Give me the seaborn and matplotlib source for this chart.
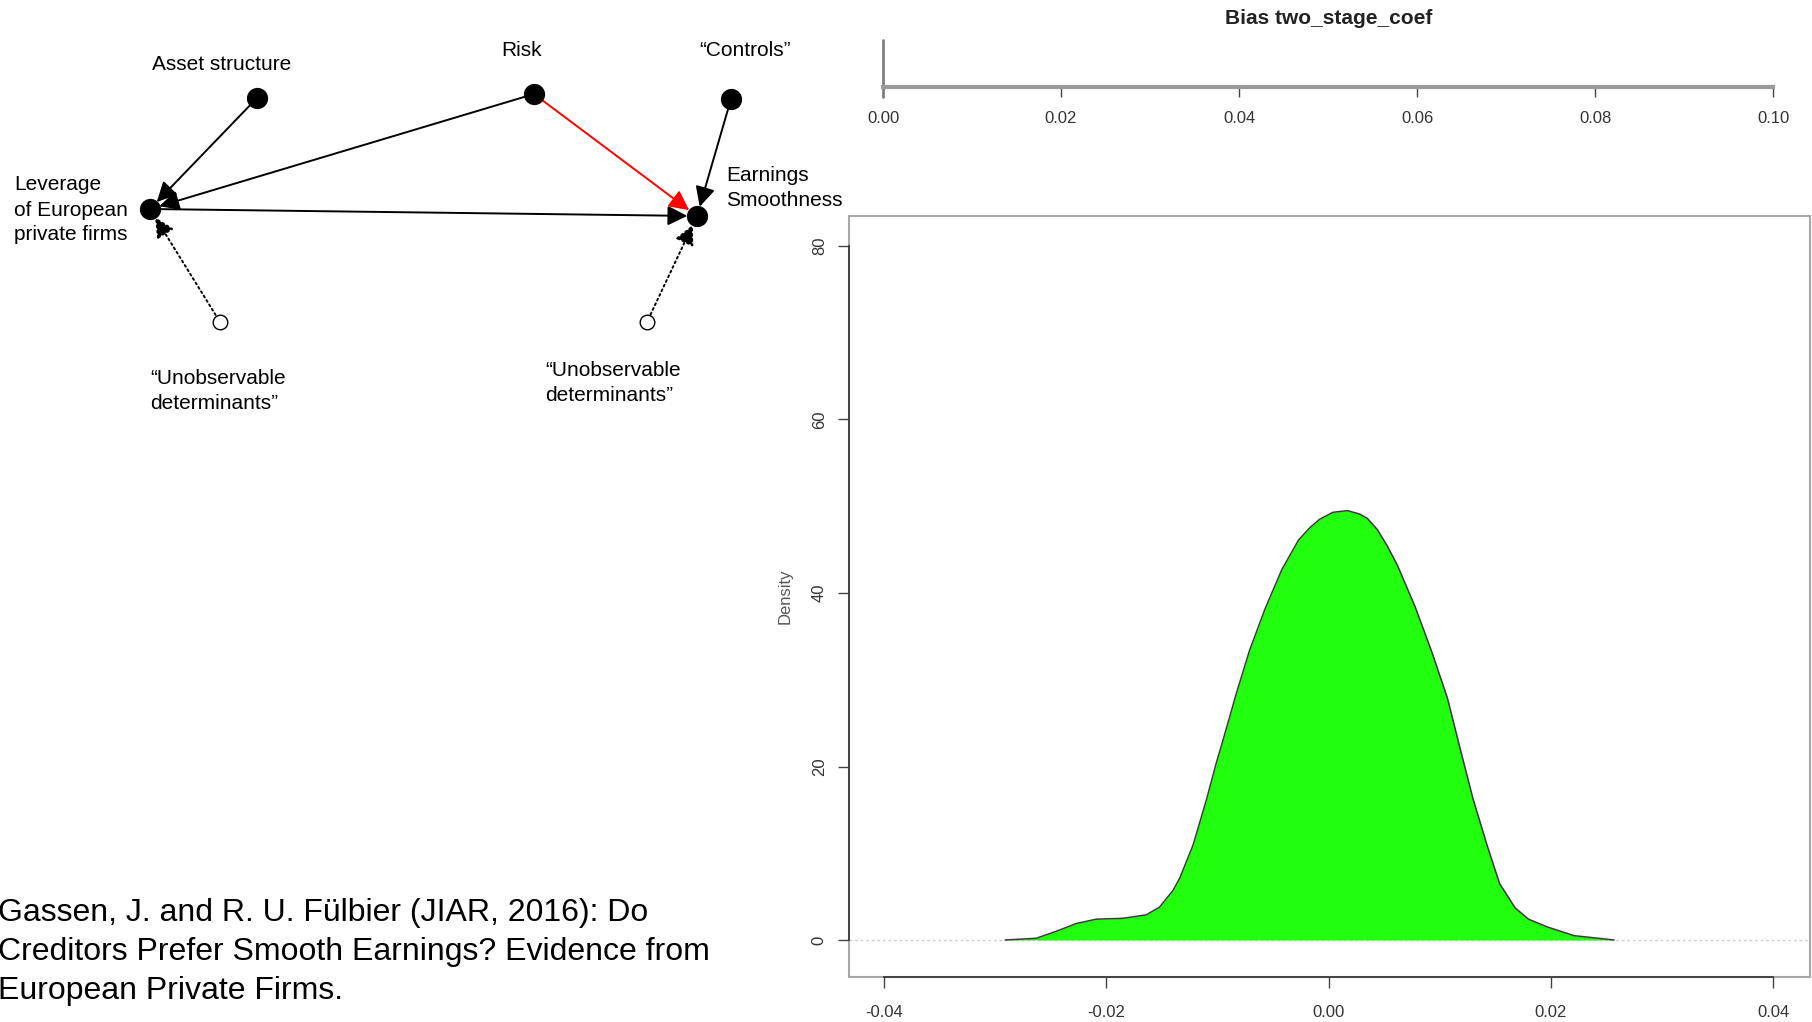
import matplotlib
matplotlib.use('Agg')

import pandas as pd
import matplotlib.pyplot as plt
import matplotlib.patches as mpatches
import seaborn as sns

sns.set_style('white')
plt.rcParams['font.family'] = ['Liberation Sans', 'DejaVu Sans']

# ---- data -------------------------------------------------------------
# density of the two-stage bias
bias = [-0.0291, -0.0263, -0.0245, -0.0227, -0.0209, -0.0185, -0.0164,
        -0.0152, -0.0140, -0.0134, -0.0122, -0.0110, -0.0101, -0.0095,
        -0.0083, -0.0071, -0.0057, -0.0042, -0.0027, -0.0017, -0.0008,
        0.0004, 0.0017, 0.0028, 0.0035, 0.0044, 0.0053, 0.0062, 0.0078,
        0.0093, 0.0107, 0.0118, 0.0130, 0.0143, 0.0154, 0.0168, 0.0180,
        0.0197, 0.0221, 0.0257]
density = [0.0, 0.2, 1.0, 1.9, 2.4, 2.5, 2.9,
           3.8, 5.7, 7.1, 10.9, 16.1, 20.4, 23.0,
           28.4, 33.4, 38.2, 42.7, 46.1, 47.5, 48.5,
           49.3, 49.5, 49.1, 48.6, 47.3, 45.4, 43.2, 38.4,
           33.2, 27.9, 22.3, 16.3, 10.8, 6.5, 3.7, 2.4,
           1.5, 0.5, 0.0]

x_ticks = [-0.04, -0.02, 0.00, 0.02, 0.04]
y_ticks = [0, 20, 40, 60, 80]
slider_ticks = [0.00, 0.02, 0.04, 0.06, 0.08, 0.10]
slider_value = 0.00
plot_title = 'Bias two_stage_coef'

# causal diagram (positions in picture pixels)
node_names = ['asset', 'risk', 'controls', 'leverage', 'earnings', 'unobs_lev', 'unobs_earn']
node_x = [257, 534, 731, 150, 697, 220, 647]
node_y = [98, 94, 99, 209, 216, 322, 322]
node_observed = [True, True, True, True, True, False, False]

edges = [
    ('asset', 'leverage', 'black', '-'),
    ('risk', 'leverage', 'black', '-'),
    ('risk', 'earnings', 'red', '-'),
    ('controls', 'earnings', 'black', '-'),
    ('leverage', 'earnings', 'black', '-'),
    ('unobs_lev', 'leverage', 'black', ':'),
    ('unobs_earn', 'earnings', 'black', ':'),
]

label_text = ['Asset structure', 'Risk', '\u201cControls\u201d',
              'Leverage\nof European\nprivate firms', 'Earnings\nSmoothness',
              '\u201cUnobservable\ndeterminants\u201d', '\u201cUnobservable\ndeterminants\u201d']
label_x = [222, 522, 745, 14, 726, 150, 545]
label_y = [64, 50, 50, 210, 188, 391, 383]
label_ha = ['center', 'center', 'center', 'left', 'left', 'left', 'left']

citation = ('Gassen, J. and R. U. F\u00fclbier (JIAR, 2016): Do\n'
            'Creditors Prefer Smooth Earnings? Evidence from\n'
            'European Private Firms.')

# ---- figure -----------------------------------------------------------
W, H = 1812, 1022
fig = plt.figure(figsize=(W / 100, H / 100), dpi=100)

# left: diagram in pixel coordinates
ax0 = fig.add_axes([0, 0, 1, 1])

nodes = pd.DataFrame({'name': node_names, 'x': node_x, 'y': node_y, 'observed': node_observed})
pos = {r.name: (r.x, r.y) for r in nodes.itertuples()}
observed = dict(zip(node_names, node_observed))

for src, dst, col, ls in edges:
    ax0.annotate('', xy=pos[dst], xytext=pos[src],
                 arrowprops=dict(arrowstyle='-|>,head_length=0.8,head_width=0.4',
                                 color=col, lw=1.4, linestyle=ls,
                                 shrinkA=4 if observed[src] else 6, shrinkB=7,
                                 mutation_scale=15))

sns.scatterplot(data=nodes[nodes.observed], x='x', y='y', ax=ax0,
                s=200, color='black', edgecolor='black', legend=False, zorder=5)
sns.scatterplot(data=nodes[~nodes.observed], x='x', y='y', ax=ax0,
                s=110, facecolor='white', edgecolor='black', linewidth=1.0,
                legend=False, zorder=5)
ax0.set_xlim(0, W)
ax0.set_ylim(H, 0)
ax0.axis('off')

for t, x, y, ha in zip(label_text, label_x, label_y, label_ha):
    ax0.text(x, y, t, ha=ha, va='center', fontsize=15, color='black', linespacing=1.4)

fig.text(-2 / W, 1 - 952 / H, citation, ha='left', va='center',
         fontsize=23, color='black', linespacing=1.38)

# right: slider strip
px_per_unit = (1773 - 884) / 0.08
sl = fig.add_axes([883 / W, 1 - 87 / H, (1773 - 883) / W, (87 - 40) / H])
sl.set_xlim(0, 0.10)
sl.set_ylim(0, 1)
sl.patch.set_alpha(0)
for s in ['top', 'left', 'right']:
    sl.spines[s].set_visible(False)
sl.spines['bottom'].set_color('#9a9a9a')
sl.spines['bottom'].set_linewidth(3)
sl.axhline(0, color='#cfcfcf', lw=1, clip_on=False)
sl.axvline(slider_value, ymin=-0.22, ymax=1, color='#808080', lw=2, clip_on=False)
sl.set_yticks([])
sl.set_xticks(slider_ticks)
sl.set_xticklabels([f'{v:.2f}' for v in slider_ticks])
sl.tick_params(axis='x', bottom=True, length=7.5, width=1, color='#444444',
               labelsize=12, labelcolor='#333333', pad=10)
fig.text(1329 / W, 1 - 19 / H, plot_title, ha='center', va='center',
         fontsize=15, fontweight='bold', color='#222222')

# right: density plot
left_px, right_px, top_px, bot_px = 849, 1810, 216, 977
ax = fig.add_axes([left_px / W, 1 - bot_px / H, (right_px - left_px) / W, (bot_px - top_px) / H])
ax.patch.set_alpha(0)
x0 = -0.04 - (884 - left_px) / px_per_unit
x1 = 0.04 + (right_px - 1773) / px_per_unit
ypu = (940 - 246) / 80
ax.set_xlim(x0, x1)
ax.set_ylim(-(bot_px - 940) / ypu, 80 + (246 - top_px) / ypu)

dens = pd.DataFrame({'bias': bias, 'density': density})
ax.axhline(0, color='#cfcfcf', lw=1, ls=(0, (2, 2)), zorder=1)
ax.fill_between(dens['bias'], dens['density'], 0, color='#22ff0e', zorder=2, lw=0)
sns.lineplot(data=dens, x='bias', y='density', ax=ax, color='#3a3a3a', lw=1.1,
             zorder=3, solid_joinstyle='round')

for s in ax.spines.values():
    s.set_visible(False)
ax.add_patch(mpatches.Rectangle((0, 0), 1, 1, transform=ax.transAxes, fill=False,
                                edgecolor='#a8a8a8', lw=1.5, clip_on=False, zorder=0))
ax.spines['left'].set_visible(True)
ax.spines['left'].set_bounds(0, 80)
ax.spines['left'].set_color('#3c3c3c')
ax.spines['left'].set_linewidth(1.3)
ax.spines['bottom'].set_visible(True)
ax.spines['bottom'].set_bounds(-0.04, 0.04)
ax.spines['bottom'].set_color('#3c3c3c')
ax.spines['bottom'].set_linewidth(1.3)

ax.set_xticks(x_ticks)
ax.set_xticklabels([f'{v:.2f}' for v in x_ticks])
ax.set_yticks(y_ticks)
ax.set_yticklabels([str(v) for v in y_ticks], rotation=90, va='center')
ax.tick_params(axis='both', length=8, width=1, color='#444444',
               labelsize=12, labelcolor='#333333', left=True, bottom=True)
ax.tick_params(axis='x', pad=12)
ax.tick_params(axis='y', pad=8)
ax.set_xlabel('')
ax.set_ylabel('Density', fontsize=12, color='#555555', labelpad=14)

fig.savefig('out.png', dpi=100)
plt.close(fig)
